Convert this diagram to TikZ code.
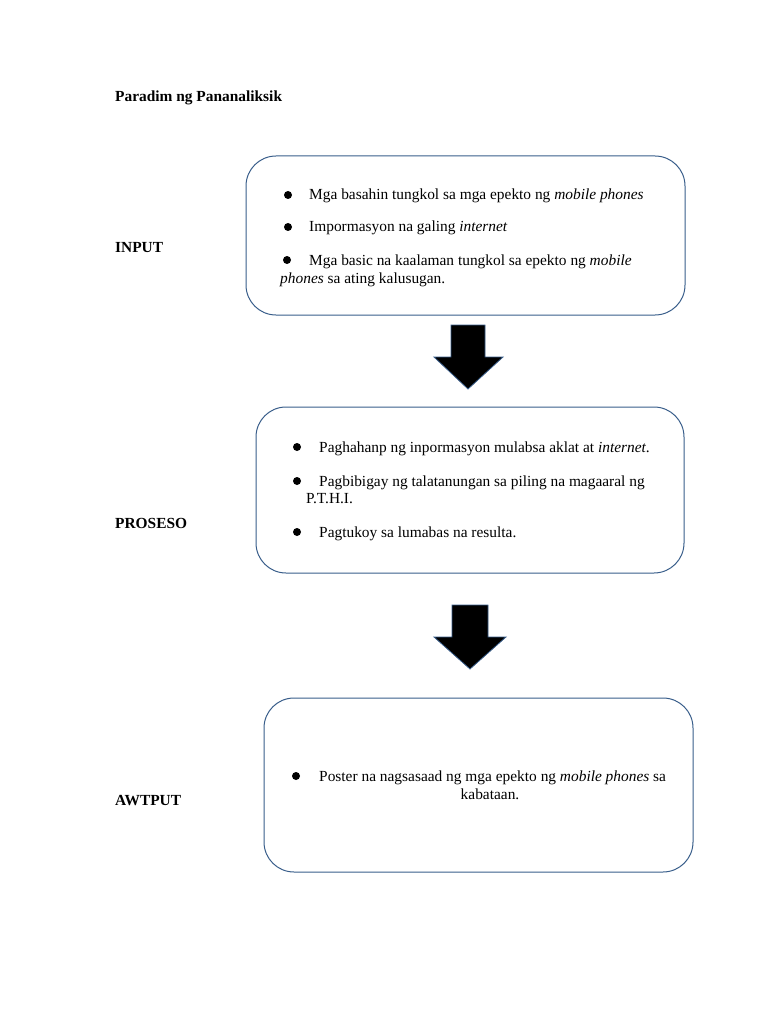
\documentclass[tikz,border=0pt]{standalone}
\usepackage{fontspec}
\setmainfont{Liberation Serif}
\definecolor{boxline}{RGB}{56,93,138}
\tikzset{
  panel/.style={draw=boxline,line width=1pt,rounded corners=30pt,inner sep=0pt},
  item/.style={anchor=base west,inner sep=0pt,font=\fontsize{15.4}{18}\selectfont},
  dot/.style={circle,fill=black,inner sep=0pt,minimum size=8pt},
  tag/.style={anchor=base west,inner sep=0pt,font=\fontsize{15.4}{18}\selectfont\bfseries},
  blockarrow/.style={fill=black,draw=boxline,line width=0.8pt,line join=miter}
}
\begin{document}
\begin{tikzpicture}[x=1pt,y=-1pt]
	\useasboundingbox (0,0) rectangle (768,1024);
	\node[tag] (title) at (115,102) {Paradim ng Pananaliksik};
	% input
	\node[tag] (input) at (115,252) {INPUT};
	\node[panel,minimum width=439pt,minimum height=159pt] (inbox) at (465.5,235.5) {};
	\node[dot] (d1) at (288,195) {};
	\node[item] (i1) at (309,200) {Mga basahin tungkol sa mga epekto ng \textit{mobile phones}};
	\node[dot] (d2) at (288,227) {};
	\node[item] (i2) at (309,232) {Impormasyon na galing \textit{internet}};
	\node[dot] (d3) at (287,260) {};
	\node[item] (i3) at (309,265) {Mga basic na kaalaman tungkol sa epekto ng \textit{mobile}};
	\node[item] (i3b) at (280,283) {\textit{phones} sa ating kalusugan.};
	% proseso
	\node[tag] (proseso) at (115,528) {PROSESO};
	\node[panel,minimum width=428pt,minimum height=166pt] (probox) at (470,490) {};
	\node[dot] (p1) at (297,447) {};
	\node[item] (j1) at (319,452) {Paghahanp ng inpormasyon mulabsa aklat at \textit{internet}.};
	\node[dot] (p2) at (297,481) {};
	\node[item] (j2) at (319,486) {Pagbibigay ng talatanungan sa piling na magaaral ng};
	\node[item] (j2b) at (306,503) {P.T.H.I.};
	\node[dot] (p3) at (297,532) {};
	\node[item] (j3) at (319,537) {Pagtukoy sa lumabas na resulta.};
	% awtput
	\node[tag] (awtput) at (115,805) {AWTPUT};
	\node[panel,minimum width=429pt,minimum height=174pt] (outbox) at (478.5,785) {};
	\node[dot] (o1) at (296,776) {};
	\node[item] (k1) at (319,781) {Poster na nagsasaad ng mga epekto ng \textit{mobile phones} sa};
	\node[item,anchor=base] (k1b) at (490,799) {kabataan.};
	% arrows
	\draw[blockarrow] (451,325)--(485,325)--(485,357)--(503,357)--(468,389)--(434,357)--(451,357)--cycle;
	\draw[blockarrow] (452,605)--(488,605)--(488,637)--(506,637)--(470,669)--(434,637)--(452,637)--cycle;
\end{tikzpicture}
\end{document}
